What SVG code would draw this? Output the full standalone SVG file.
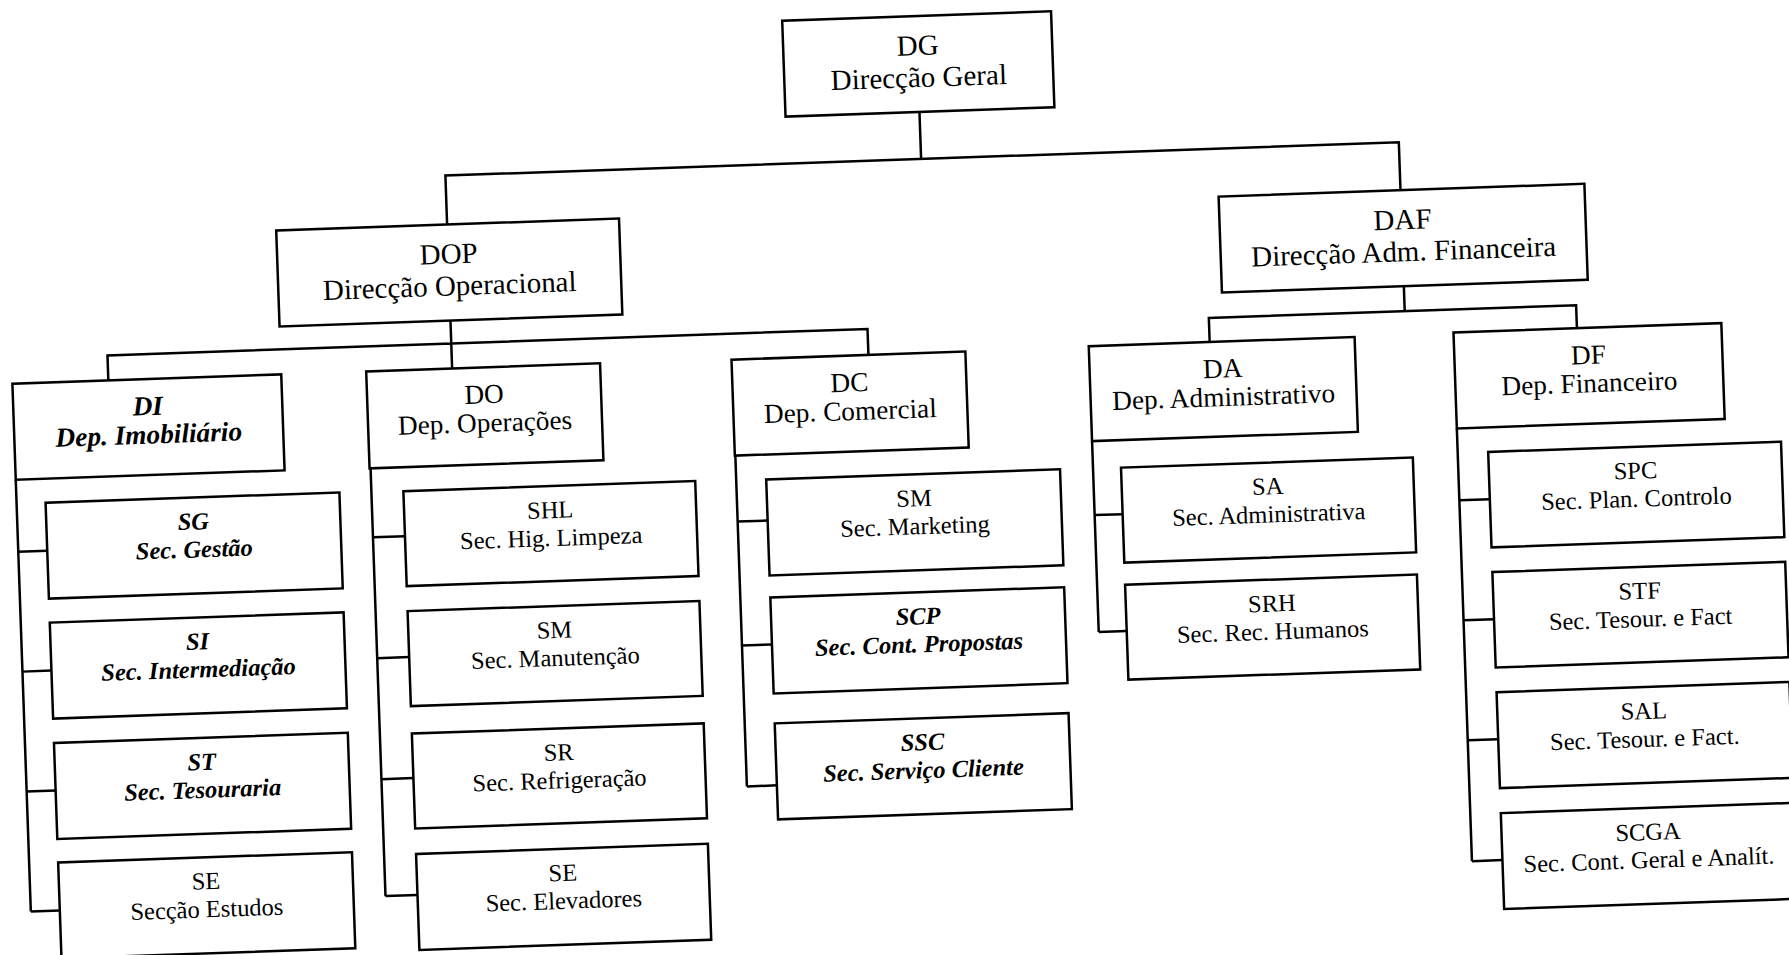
<svg xmlns="http://www.w3.org/2000/svg" width="1789" height="955" viewBox="0 0 1789 955">
<style>
.box{fill:#fff;stroke:#000;stroke-width:2.5}
.conn{fill:none;stroke:#000;stroke-width:2.5}
text{font-family:"Liberation Serif","Times New Roman",serif;fill:#000;text-anchor:middle}
.t{font-size:29px}
.d{font-size:27.3px}
.s{font-size:24.5px}
.bi{font-weight:bold;font-style:italic}
</style>
<rect width="1789" height="955" fill="#fff"/>
<g transform="rotate(-2)">
<g id="connectors" class="conn">
<path d="M915 144V191 M439 240V191H1393V239"/>
<path d="M439 336V359 M95 384V359H855.5V385 M439 359V384"/>
<path d="M1393 335V360 M1197 384V360H1564.5V383"/>
<path d="M-1 480V912 M-1 552H28 M-1 672H28 M-1 792H28 M-1 912H28"/>
<path d="M354 481V909 M354 550H386 M354 671H386 M354 792H386 M354 909H386"/>
<path d="M719 481V812 M719 547H749 M719 671H749 M719 812H749"/>
<path d="M1076 479V670 M1076 553H1104 M1076 670H1104"/>
<path d="M1441 479V912 M1441 551H1471.5 M1441 671H1471.5 M1441 791H1471.5 M1441 912H1471.5"/>
</g>
<g id="DG"><rect class="box" x="781" y="48" width="269" height="96"/><text class="t" x="915.5" y="87">DG</text><text class="t" x="915.5" y="119">Direcção Geral</text></g>
<g id="DOP"><rect class="box" x="268" y="240" width="343" height="96"/><text class="t" x="439.5" y="279">DOP</text><text class="t" x="439.5" y="311">Direcção Operacional</text></g>
<g id="DAF"><rect class="box" x="1211" y="239" width="366" height="96"/><text class="t" x="1394" y="278">DAF</text><text class="t" x="1394" y="310">Direcção Adm. Financeira</text></g>
<g id="DI"><rect class="box" x="-1" y="384" width="269" height="96"/><text class="d bi" x="133.5" y="420">DI</text><text class="d bi" x="133.5" y="448.5">Dep. Imobiliário</text></g>
<g id="DO"><rect class="box" x="353" y="384" width="234" height="97"/><text class="d" x="470" y="420">DO</text><text class="d" x="470" y="448.5">Dep. Operações</text></g>
<g id="DC"><rect class="box" x="718.5" y="385" width="234" height="96"/><text class="d" x="835.5" y="421">DC</text><text class="d" x="835.5" y="449.5">Dep. Comercial</text></g>
<g id="DA"><rect class="box" x="1076" y="384" width="266" height="95"/><text class="d" x="1209" y="420">DA</text><text class="d" x="1209" y="448.5">Dep. Administrativo</text></g>
<g id="DF"><rect class="box" x="1441" y="383" width="268" height="96"/><text class="d" x="1575" y="419">DF</text><text class="d" x="1575" y="447.5">Dep. Financeiro</text></g>
<g id="SG"><rect class="box" x="28" y="504" width="294" height="96"/><text class="s bi" x="175" y="536">SG</text><text class="s bi" x="175" y="564">Sec. Gestão</text></g>
<g id="SI"><rect class="box" x="28" y="624" width="294" height="96"/><text class="s bi" x="175" y="656">SI</text><text class="s bi" x="175" y="684">Sec. Intermediação</text></g>
<g id="ST"><rect class="box" x="28" y="744.5" width="294" height="96"/><text class="s bi" x="175" y="776.5">ST</text><text class="s bi" x="175" y="804.5">Sec. Tesouraria</text></g>
<g id="SE1"><rect class="box" x="28" y="864" width="294" height="96"/><text class="s" x="175" y="896">SE</text><text class="s" x="175" y="924">Secção Estudos</text></g>
<g id="SHL"><rect class="box" x="386" y="505" width="292" height="95"/><text class="s" x="532" y="537">SHL</text><text class="s" x="532" y="565">Sec. Hig. Limpeza</text></g>
<g id="SM1"><rect class="box" x="386" y="625" width="292" height="95"/><text class="s" x="532" y="657">SM</text><text class="s" x="532" y="685">Sec. Manutenção</text></g>
<g id="SR"><rect class="box" x="386" y="747.5" width="292" height="95"/><text class="s" x="532" y="779.5">SR</text><text class="s" x="532" y="807.5">Sec. Refrigeração</text></g>
<g id="SE2"><rect class="box" x="386" y="868" width="292" height="96"/><text class="s" x="532" y="900">SE</text><text class="s" x="532" y="928">Sec. Elevadores</text></g>
<g id="SM2"><rect class="box" x="749" y="506" width="294" height="96"/><text class="s" x="896" y="538">SM</text><text class="s" x="896" y="566">Sec. Marketing</text></g>
<g id="SCP"><rect class="box" x="749" y="624" width="294" height="96"/><text class="s bi" x="896" y="656">SCP</text><text class="s bi" x="896" y="684">Sec. Cont. Propostas</text></g>
<g id="SSC"><rect class="box" x="749" y="750" width="294" height="96"/><text class="s bi" x="896" y="782">SSC</text><text class="s bi" x="896" y="810">Sec. Serviço Cliente</text></g>
<g id="SA"><rect class="box" x="1104" y="506.5" width="292" height="95"/><text class="s" x="1250" y="538.5">SA</text><text class="s" x="1250" y="566.5">Sec. Administrativa</text></g>
<g id="SRH"><rect class="box" x="1104" y="623.6" width="292" height="95"/><text class="s" x="1250" y="655.6">SRH</text><text class="s" x="1250" y="683.6">Sec. Rec. Humanos</text></g>
<g id="SPC"><rect class="box" x="1471.5" y="503.6" width="293" height="95.5"/><text class="s" x="1618" y="535.6">SPC</text><text class="s" x="1618" y="563.6">Sec. Plan. Controlo</text></g>
<g id="STF"><rect class="box" x="1471.5" y="623.8" width="293" height="95.5"/><text class="s" x="1618" y="655.8">STF</text><text class="s" x="1618" y="683.8">Sec. Tesour. e Fact</text></g>
<g id="SAL"><rect class="box" x="1471.5" y="744" width="293" height="96"/><text class="s" x="1618" y="776">SAL</text><text class="s" x="1618" y="804">Sec. Tesour. e Fact.</text></g>
<g id="SCGA"><rect class="box" x="1471.5" y="865" width="293" height="96"/><text class="s" x="1618" y="897">SCGA</text><text class="s" x="1618" y="925">Sec. Cont. Geral e Analít.</text></g>
</g>
</svg>
